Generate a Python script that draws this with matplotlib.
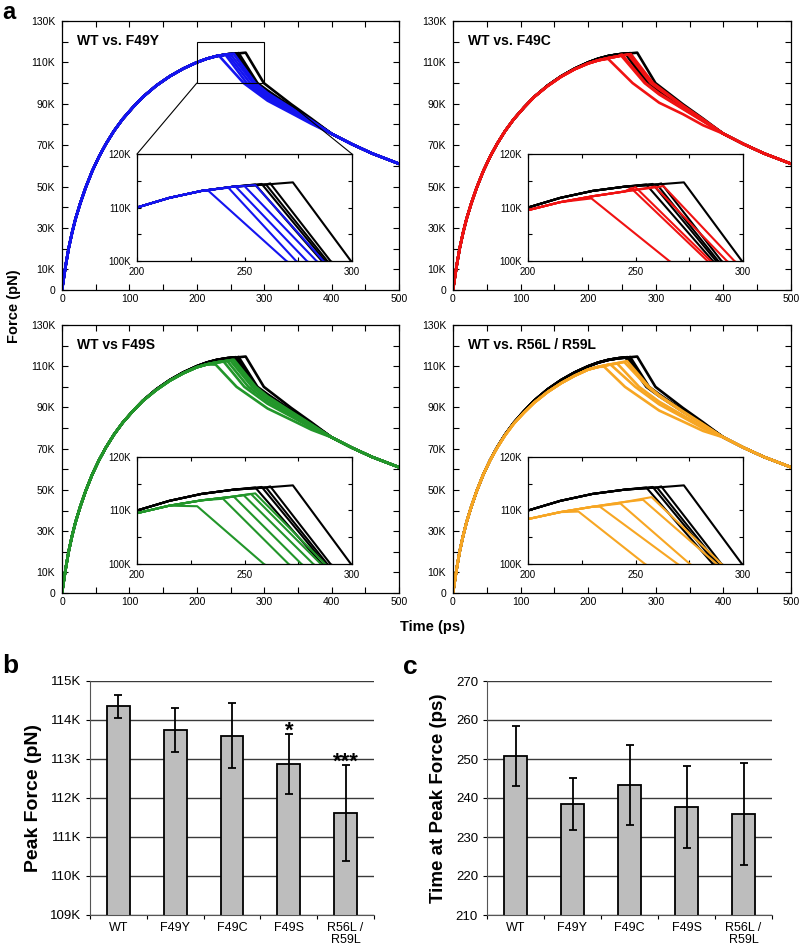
import matplotlib
matplotlib.use("Agg")
import matplotlib.pyplot as plt
from matplotlib.patches import Rectangle, ConnectionPatch

plt.rcParams["font.family"] = ["Liberation Sans", "DejaVu Sans"]

W, H = 800, 951

# ---- force traces (force in K pN, time in ps) ----
rise_t = [0, 3, 6, 10, 15, 20, 27, 35, 45, 55, 65, 77, 90, 105, 120, 140, 160, 180, 200, 215, 230, 245, 260, 275]
wt_rise = [0, 6.6, 12.9, 20.3, 27.8, 34.3, 41.8, 49.4, 57.6, 64.5, 70.5, 76.8, 82.6, 88.2, 93.3, 98.8,
           103.3, 107.0, 110.0, 111.8, 113.1, 113.9, 114.3, 114.5]
f49y_rise = [0, 6.6, 12.9, 20.3, 27.8, 34.3, 41.8, 49.4, 57.6, 64.5, 70.5, 76.8, 82.6, 88.2, 93.3, 98.8,
             103.3, 107.0, 110.0, 111.8, 113.1, 113.9, 114.2, 114.3]
f49c_rise = [0, 6.6, 12.9, 20.3, 27.8, 34.3, 41.8, 49.4, 57.6, 64.5, 70.5, 76.8, 82.6, 88.2, 93.3, 98.6,
             103.1, 106.7, 109.5, 111.0, 112.1, 113.0, 113.8, 114.0]
f49s_rise = [0, 6.6, 12.9, 20.3, 27.8, 34.3, 41.8, 49.4, 57.6, 64.5, 70.5, 76.8, 82.6, 88.2, 93.2, 98.5,
             103.0, 106.6, 109.5, 110.9, 111.9, 112.6, 113.2, 113.4]
r56l_rise = [0, 6.6, 12.9, 20.3, 27.8, 34.3, 41.8, 49.4, 57.6, 64.4, 70.3, 76.5, 82.2, 87.5, 92.3, 97.5,
             101.8, 105.4, 108.4, 109.7, 110.7, 111.6, 112.4, 112.6]

decay_t = [305, 340, 370]
tail_t = [400, 430, 460, 500]
tail_f = [75.5, 70.5, 66, 61]

wt_peak_t = [255, 258, 260, 262, 272.5]
wt_peak_f = [114.3, 114.4, 114.3, 114.5, 114.7]
wt_t100 = [286, 287.5, 288.5, 290, 299.5]
wt_f305 = [95.5, 95.8, 96.0, 96.4, 98.6]
wt_f340 = [88.0, 88.2, 88.4, 88.6, 89.8]
wt_f370 = [82.0, 82.1, 82.2, 82.3, 82.8]

f49y_peak_t = [233, 242.5, 246, 250, 255]
f49y_peak_f = [113.2, 113.7, 113.85, 114.0, 114.2]
f49y_t100 = [269.5, 274, 279, 283.5, 286.7]
f49y_f305 = [91.5, 92.5, 93.5, 94.5, 95.2]
f49y_f340 = [85.5, 86.3, 87.0, 87.6, 88.0]
f49y_f370 = [80.3, 80.8, 81.2, 81.6, 81.9]

f49c_peak_t = [229.5, 248, 250, 259, 263]
f49c_peak_f = [111.7, 113.6, 113.8, 113.9, 114.0]
f49c_t100 = [265.7, 283.5, 285, 292.5, 296]
f49c_f305 = [90.5, 94.5, 95.0, 97.0, 97.8]
f49c_f340 = [85.0, 87.5, 87.8, 88.8, 89.2]
f49c_f370 = [79.6, 81.5, 81.7, 82.3, 82.5]

f49s_peak_t = [228, 240, 245, 249.5, 253, 255]
f49s_peak_f = [110.8, 112.2, 112.6, 112.9, 113.1, 113.2]
f49s_t100 = [259, 270.5, 276.5, 282, 285.5, 287.5]
f49s_f305 = [89.5, 91.8, 93.0, 94.2, 95.0, 95.4]
f49s_f340 = [84.0, 85.6, 86.4, 87.2, 87.7, 88.0]
f49s_f370 = [79.2, 80.2, 80.8, 81.3, 81.6, 81.8]

r56l_peak_t = [223.5, 233.5, 243, 253.5, 257.5]
r56l_peak_f = [109.8, 110.7, 111.3, 112.0, 112.5]
r56l_t100 = [254.4, 269.6, 275.3, 287.8, 290]
r56l_f305 = [88.5, 91.5, 92.8, 95.4, 96.0]
r56l_f340 = [83.2, 85.3, 86.2, 87.8, 88.2]
r56l_f370 = [78.6, 79.9, 80.5, 81.6, 81.9]

# ---- bar charts ----
categories = ["WT", "F49Y", "F49C", "F49S", "R56L /\nR59L"]
peak_force = [114.35, 113.75, 113.6, 112.87, 111.62]
peak_force_err = [0.29, 0.56, 0.83, 0.78, 1.23]
peak_stars = ["", "", "", "*", "***"]
peak_time = [250.8, 238.5, 243.4, 237.7, 235.9]
peak_time_err = [7.6, 6.7, 10.2, 10.4, 13.2]


def rect(l, r, t, b):
    return [l / W, 1 - b / H, (r - l) / W, (b - t) / H]


def draw_group(axes, rise_f, pts, pfs, t100s, f305s, f340s, f370s, color, lw):
    for pt, pf, t1, a, b, c in zip(pts, pfs, t100s, f305s, f340s, f370s):
        k = sum(1 for v in rise_t if v < pt)
        t = rise_t[:k] + [pt, t1] + decay_t + tail_t
        f = rise_f[:k] + [pf, 100, a, b, c] + tail_f
        for ax, w in zip(axes, lw):
            ax.plot(t, f, color=color, lw=w, solid_joinstyle="round")


def style_main(ax):
    ax.set_xlim(0, 500)
    ax.set_ylim(0, 130)
    ax.set_xticks(range(0, 501, 100))
    ax.set_xticks(range(50, 500, 100), minor=True)
    yt = list(range(0, 131, 10))
    ax.set_yticks(yt)
    ax.set_yticklabels(["0" if v == 0 else (f"{v}K" if (v // 10) % 2 else "") for v in yt])
    ax.tick_params(which="both", direction="in", top=True, right=True, labelsize=7.5, width=0.8, length=4)
    ax.tick_params(axis="y", pad=5)
    ax.tick_params(axis="x", pad=3)
    for s in ax.spines.values():
        s.set_linewidth(0.9)


def style_inset(ax):
    ax.set_xlim(200, 300)
    ax.set_ylim(100, 120)
    ax.set_xticks([200, 250, 300])
    ax.set_xticks([225, 275], minor=True)
    ax.set_yticks([100, 110, 120])
    ax.set_yticklabels(["100K", "110K", "120K"])
    ax.set_yticks([105, 115], minor=True)
    ax.tick_params(which="both", direction="in", top=True, right=True, labelsize=7, length=3, width=0.8)
    ax.tick_params(axis="y", pad=4.5)
    ax.tick_params(axis="x", pad=4)
    for s in ax.spines.values():
        s.set_linewidth(0.9)


fig = plt.figure(figsize=(8, 9.51), dpi=100)

panels = [
    ((62, 399, 21, 290), (137, 352, 154, 261), "WT vs. F49Y", "#1414f0",
     f49y_rise, f49y_peak_t, f49y_peak_f, f49y_t100, f49y_f305, f49y_f340, f49y_f370),
    ((453, 791, 21, 290), (528, 743, 154, 261), "WT vs. F49C", "#f01212",
     f49c_rise, f49c_peak_t, f49c_peak_f, f49c_t100, f49c_f305, f49c_f340, f49c_f370),
    ((62, 399, 325, 593), (137, 352, 457, 564), "WT vs F49S", "#22962a",
     f49s_rise, f49s_peak_t, f49s_peak_f, f49s_t100, f49s_f305, f49s_f340, f49s_f370),
    ((453, 791, 325, 593), (528, 743, 457, 564), "WT vs. R56L / R59L", "#f7a623",
     r56l_rise, r56l_peak_t, r56l_peak_f, r56l_t100, r56l_f305, r56l_f340, r56l_f370),
]

for i, (mr, ir, title, col, *mut) in enumerate(panels):
    ax = fig.add_axes(rect(*mr))
    ins = fig.add_axes(rect(*ir))
    draw_group([ax, ins], wt_rise, wt_peak_t, wt_peak_f, wt_t100, wt_f305, wt_f340, wt_f370, "black", [1.9, 1.5])
    draw_group([ax, ins], *mut, col, [1.9, 1.5])
    style_main(ax)
    style_inset(ins)
    ax.text(0.045, 0.926, title, transform=ax.transAxes, fontsize=10, fontweight="bold", va="center")
    if i == 0:
        ax.add_patch(Rectangle((200, 100), 100, 20, fill=False, lw=0.8, ec="black", zorder=5))
        for xa, xb in [(200, 0), (300, 1)]:
            cp = ConnectionPatch(xyA=(xa, 100), coordsA=ax.transData, xyB=(xb, 1), coordsB=ins.transAxes,
                                 lw=0.8, color="black", zorder=6)
            fig.add_artist(cp)

fig.text(14 / W, 1 - 306 / H, "Force (pN)", rotation=90, ha="center", va="center", fontsize=10.5, fontweight="bold")
fig.text(432 / W, 1 - 627 / H, "Time (ps)", ha="center", va="center", fontsize=10.5, fontweight="bold")
fig.text(2 / W, 1 - 1 / H, "a", fontsize=17, fontweight="bold", va="top")
fig.text(2 / W, 1 - 673 / H, "b", fontsize=19, fontweight="bold", va="baseline")
fig.text(403 / W, 1 - 674 / H, "c", fontsize=19, fontweight="bold", va="baseline")


def style_bar(ax, ymin, ymax, step, fmt):
    ax.set_xlim(-0.5, 4.5)
    ax.set_ylim(ymin, ymax)
    ax.set_yticks(range(ymin, ymax + 1, step))
    ax.set_yticklabels([fmt(v) for v in range(ymin, ymax + 1, step)])
    ax.set_xticks(range(len(categories)))
    ax.set_xticklabels(categories, linespacing=1.0)
    ax.set_xticks([x - 0.5 for x in range(len(categories) + 1)], minor=True)
    ax.tick_params(axis="x", which="major", length=0, labelsize=9, pad=5)
    ax.tick_params(axis="x", which="minor", length=3, direction="out", width=0.8)
    ax.tick_params(axis="y", labelsize=9.5, length=3, direction="out", width=0.8)
    ax.yaxis.grid(True, color="#3a3a3a", lw=1)
    ax.set_axisbelow(True)
    ax.spines["top"].set_visible(False)
    ax.spines["right"].set_visible(False)
    ax.spines["left"].set_color("#555555")
    ax.spines["bottom"].set_color("#555555")


x = range(len(categories))

axb = fig.add_axes(rect(90, 374, 681, 915))
axb.bar(x, peak_force, width=0.4, color="#bdbdbd", edgecolor="black", lw=1.3, zorder=2)
axb.errorbar(x, peak_force, yerr=peak_force_err, fmt="none", ecolor="black", elinewidth=1.3, capsize=3, capthick=1.3, zorder=3)
style_bar(axb, 109, 115, 1, lambda v: f"{v}K")
axb.set_ylabel("Peak Force (pN)", fontsize=14, fontweight="bold", labelpad=6)
for xi, v, e, s in zip(x, peak_force, peak_force_err, peak_stars):
    if s:
        axb.text(xi, v + e - 0.08, s, ha="center", va="baseline", fontsize=16, fontweight="bold", zorder=4)

axc = fig.add_axes(rect(487, 772, 681, 915))
axc.bar(x, peak_time, width=0.4, color="#bdbdbd", edgecolor="black", lw=1.3, zorder=2)
axc.errorbar(x, peak_time, yerr=peak_time_err, fmt="none", ecolor="black", elinewidth=1.3, capsize=3, capthick=1.3, zorder=3)
style_bar(axc, 210, 270, 10, lambda v: f"{v}")
axc.set_ylabel("Time at Peak Force (ps)", fontsize=13.5, fontweight="bold", labelpad=6)

fig.savefig("out.png", dpi=100)
